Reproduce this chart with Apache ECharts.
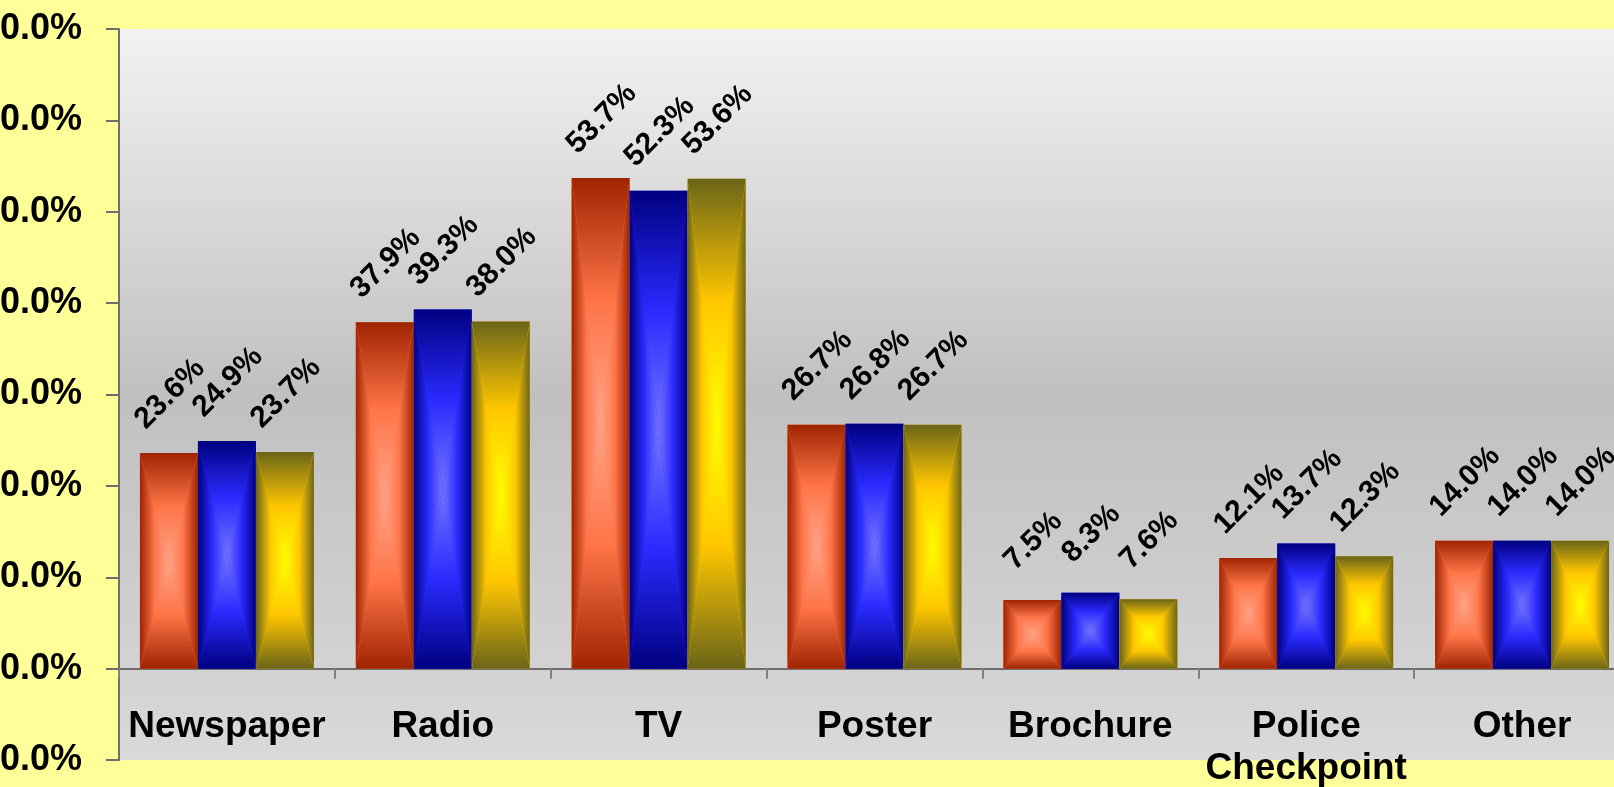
<!DOCTYPE html>
<html><head><meta charset="utf-8">
<script src="https://cdn.jsdelivr.net/npm/echarts@6.0.0/dist/echarts.min.js"></script>
<style>html,body{margin:0;padding:0;background:#FFFF99;overflow:hidden}#c{width:1614px;height:787px}</style>
</head><body><div id="c"></div>
<script>
const categories = ['Newspaper', 'Radio', 'TV', 'Poster', 'Brochure', 'Police\nCheckpoint', 'Other'];
const seriesA = [23.6, 37.9, 53.7, 26.7, 7.5, 12.1, 14.0];
const seriesB = [24.9, 39.3, 52.3, 26.8, 8.3, 13.7, 14.0];
const seriesC = [23.7, 38.0, 53.6, 26.7, 7.6, 12.3, 14.0];
const seriesNames = ['Series 1', 'Series 2', 'Series 3'];
const yMin = -10, yMax = 70, yStep = 10;

const palettes = [
  { dark: '#9E2400', mid: '#FF7448', light: '#FFA488' },
  { dark: '#000080', mid: '#2A2AFF', light: '#7474FF' },
  { dark: '#6B6519', mid: '#FFC600', light: '#FFFF00' }
];
const GAP = 0.194;
const FONT = '"Liberation Sans", Arial, sans-serif';

function makeRender(k) {
  const p = palettes[k];
  const stops = [{ offset: 0, color: p.dark }, { offset: 0.5, color: p.mid }, { offset: 1, color: p.light }];
  function grad(xa, ya, xb, yb) {
    return { type: 'linear', x: xa, y: ya, x2: xb, y2: yb, global: true, colorStops: stops };
  }
  return function (params, api) {
    const idx = api.value(0), v = api.value(1);
    const band = api.size([1, 0])[0];
    const bw = band * (1 - GAP) / 3;
    const c = api.coord([idx, v]);
    const b = api.coord([idx, 0]);
    const x0 = c[0] - 1.5 * bw + k * bw, x1 = x0 + bw;
    const yt = c[1], yb = b[1];
    const xm = (x0 + x1) / 2, ym = (yt + yb) / 2;
    return {
      type: 'group',
      children: [
        { type: 'rect', shape: { x: x0, y: yt, width: bw, height: yb - yt }, style: { fill: p.mid } },
        { type: 'polygon', shape: { points: [[x0, yt], [x1, yt], [xm, ym]] }, style: { fill: grad(xm, yt, xm, ym) } },
        { type: 'polygon', shape: { points: [[x0, yb], [x1, yb], [xm, ym]] }, style: { fill: grad(xm, yb, xm, ym) } },
        { type: 'polygon', shape: { points: [[x0, yt], [x0, yb], [xm, ym]] }, style: { fill: grad(x0, ym, xm, ym) } },
        { type: 'polygon', shape: { points: [[x1, yt], [x1, yb], [xm, ym]] }, style: { fill: grad(x1, ym, xm, ym) } },
        {
          type: 'text', x: xm + 1, y: yt - 59, rotation: Math.PI / 4, z2: 100,
          style: { text: v.toFixed(1) + '%', fill: '#000', font: 'bold 30px ' + FONT, align: 'center', verticalAlign: 'middle' }
        }
      ]
    };
  };
}

const allData = [seriesA, seriesB, seriesC];
const chart = echarts.init(document.getElementById('c'));
chart.setOption({
  backgroundColor: '#FFFF99',
  animation: false,
  grid: {
    left: 119, top: 29, bottom: 27, right: -16, show: true, borderWidth: 0,
    containLabel: false, outerBoundsMode: 'none',
    backgroundColor: { type: 'linear', x: 0, y: 0, x2: 0, y2: 1, colorStops: [
      { offset: 0, color: '#F2F2F2' }, { offset: 0.5, color: '#C0C0C0' }, { offset: 1, color: '#D9D9D9' }] }
  },
  xAxis: {
    type: 'category', data: categories,
    axisLine: { onZero: true, lineStyle: { color: '#6E6E6E', width: 2 } },
    axisTick: { show: true, length: 10, lineStyle: { color: '#808080', width: 2 } },
    axisLabel: { interval: 0, margin: -54, fontSize: 37, fontWeight: 'bold', color: '#000', fontFamily: FONT, lineHeight: 42, hideOverlap: false },
    splitLine: { show: false }
  },
  yAxis: {
    type: 'value', min: yMin, max: yMax, interval: yStep,
    axisLine: { show: true, lineStyle: { color: '#6E6E6E', width: 2 } },
    axisTick: { show: true, length: 13, lineStyle: { color: '#6E6E6E', width: 2 } },
    axisLabel: { margin: 37, fontSize: 36, fontWeight: 'bold', color: '#000', fontFamily: FONT,
      formatter: v => v.toFixed(1) + '%' },
    splitLine: { show: false }
  },
  series: allData.map((arr, k) => ({
    type: 'custom', name: seriesNames[k],
    renderItem: makeRender(k),
    encode: { x: 0, y: 1 },
    data: arr.map((v, i) => [i, v])
  }))
});
</script></body></html>
